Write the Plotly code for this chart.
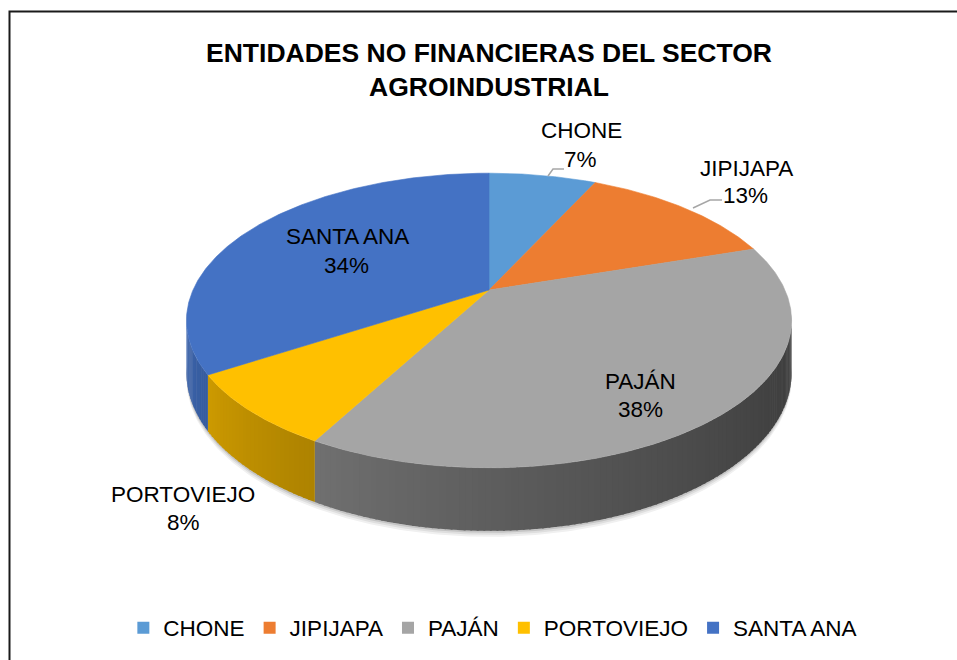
import numpy as np
import plotly.graph_objects as go

# ---- data ----
categories = ["CHONE", "JIPIJAPA", "PAJÁN", "PORTOVIEJO", "SANTA ANA"]
values = [7, 13, 38, 8, 34]
colors = ["#5B9BD5", "#ED7D31", "#A5A5A5", "#FFC000", "#4472C4"]
title_text = "ENTIDADES NO FINANCIERAS DEL SECTOR<br>AGROINDUSTRIAL"

# ---- label placement (layout only) ----
name_pos = [(581, 130), (746, 168), (640, 381), (183, 494), (347, 236)]
pct_pos = [(580, 159), (745, 195), (640, 409), (183, 522), (346, 265)]

FONT = "Liberation Sans Narrow, Arial Narrow, Liberation Sans, Arial, sans-serif"

# ---- 3D pie geometry (style) ----
W, H = 957, 660
cx, cy = 489.0, 290.0
rx, ry = 296.0, 141.0
k = 0.207
depth = 50.0


def proj(theta_deg, level=0.0):
    t = np.radians(theta_deg)
    X, Z = np.sin(t), np.cos(t)
    w = 1 + k * Z
    return cx + rx * X / w, cy - ry * Z / w + level * depth / w


def hex_to_rgb(h):
    h = h.lstrip("#")
    return tuple(int(h[i:i + 2], 16) for i in (0, 2, 4))


def shade(h, f):
    r, g, b = hex_to_rgb(h)
    return "rgb(%d,%d,%d)" % (min(255, r * f), min(255, g * f), min(255, b * f))


total = float(sum(values))
bounds = np.concatenate([[0.0], np.cumsum(values) / total * 360.0])
sil_a = np.degrees(np.arccos(-k))
sil_b = 360.0 - sil_a

fig = go.Figure()

# soft shadow under the pie
for off, col in [(6, "#f0f0f0"), (4, "#dedede"), (2, "#c4c4c4")]:
    th = np.linspace(sil_a - 5, sil_b + 5, 200)
    xt, yt = proj(th, 0.0)
    xb, yb = proj(th[::-1], 1.0)
    fig.add_trace(go.Scatter(
        x=np.concatenate([xt, xb]), y=np.concatenate([yt, yb + off]),
        fill="toself", fillcolor=col, line=dict(width=0), mode="lines",
        hoverinfo="skip", showlegend=False))

# side walls (shaded strips)
for i, cat in enumerate(categories):
    a0, a1 = bounds[i], bounds[i + 1]
    s0, s1 = max(a0, sil_a), min(a1, sil_b)
    if s1 <= s0:
        continue
    n = max(2, int((s1 - s0) / 1.0) + 1)
    edges = np.linspace(s0, s1, n)
    for j in range(len(edges) - 1):
        e0 = edges[j]
        e1 = edges[j + 1] + 0.3 if j < len(edges) - 2 else edges[j + 1]
        mid = 0.5 * (edges[j] + edges[j + 1])
        tt = (mid - sil_a) / (sil_b - sil_a)
        f = 0.37 + 0.53 * tt ** 1.4
        th = np.linspace(e0, e1, 4)
        xt, yt = proj(th, 0.0)
        xb, yb = proj(th[::-1], 1.0)
        fig.add_trace(go.Scatter(
            x=np.concatenate([xt, xb]), y=np.concatenate([yt, yb]),
            fill="toself", fillcolor=shade(colors[i], f), line=dict(width=0),
            mode="lines", hoverinfo="skip", showlegend=False))

# top faces
for i, cat in enumerate(categories):
    a0, a1 = bounds[i], bounds[i + 1]
    th = np.linspace(a0, a1, max(3, int(a1 - a0) * 2))
    xa, ya = proj(th, 0.0)
    fig.add_trace(go.Scatter(
        x=np.concatenate([[cx], xa, [cx]]), y=np.concatenate([[cy], ya, [cy]]),
        fill="toself", fillcolor=colors[i], line=dict(width=0.6, color=colors[i]),
        mode="lines", name=cat, hoverinfo="name", showlegend=False))

# legend entries
for i, cat in enumerate(categories):
    fig.add_trace(go.Scatter(
        x=[None], y=[None], mode="markers", name=cat,
        marker=dict(symbol="square", size=12, color=colors[i])))

# labels
LABEL_SIZE = 22.5
annotations = []
for i, cat in enumerate(categories):
    pct = round(values[i] / total * 100)
    annotations.append(dict(x=name_pos[i][0], y=name_pos[i][1], text=cat, showarrow=False,
                            xref="x", yref="y", font=dict(family=FONT, size=LABEL_SIZE, color="#000000")))
    annotations.append(dict(x=pct_pos[i][0], y=pct_pos[i][1], text="%d%%" % pct, showarrow=False,
                            xref="x", yref="y", font=dict(family=FONT, size=LABEL_SIZE, color="#000000")))

shapes = [
    # chart border
    dict(type="rect", xref="paper", yref="paper", x0=9.5 / W, y0=1 - 11.5 / H, x1=1.05, y1=-0.05,
         line=dict(color="#1a1a1a", width=2)),
    # leader lines
    dict(type="path", xref="x", yref="y", path="M 548 176 L 553 169 L 564 169",
         line=dict(color="#A6A6A6", width=1.5)),
    dict(type="path", xref="x", yref="y", path="M 693 208 L 710 200 L 722 200",
         line=dict(color="#A6A6A6", width=1.5)),
]

fig.update_layout(
    width=W, height=H,
    margin=dict(l=0, r=0, t=0, b=0),
    paper_bgcolor="white", plot_bgcolor="white",
    xaxis=dict(range=[0, W], visible=False, fixedrange=True),
    yaxis=dict(range=[H, 0], visible=False, fixedrange=True),
    title=dict(text=title_text, x=489 / W, xanchor="center", y=1 - 62 / H, yanchor="middle",
               font=dict(family=FONT, size=26.5, color="#000000", weight="bold")),
    annotations=annotations,
    shapes=shapes,
    showlegend=True,
    legend=dict(orientation="h", x=0.515, xanchor="center", y=1 - 628 / H, yanchor="middle",
                font=dict(family=FONT, size=22.5, color="#000000"), itemwidth=30,
                bgcolor="rgba(0,0,0,0)"),
)

fig.write_html(
    "out.html",
    config={"displayModeBar": False},
    post_script="document.body.style.margin='0px';document.body.style.overflow='hidden';",
)
